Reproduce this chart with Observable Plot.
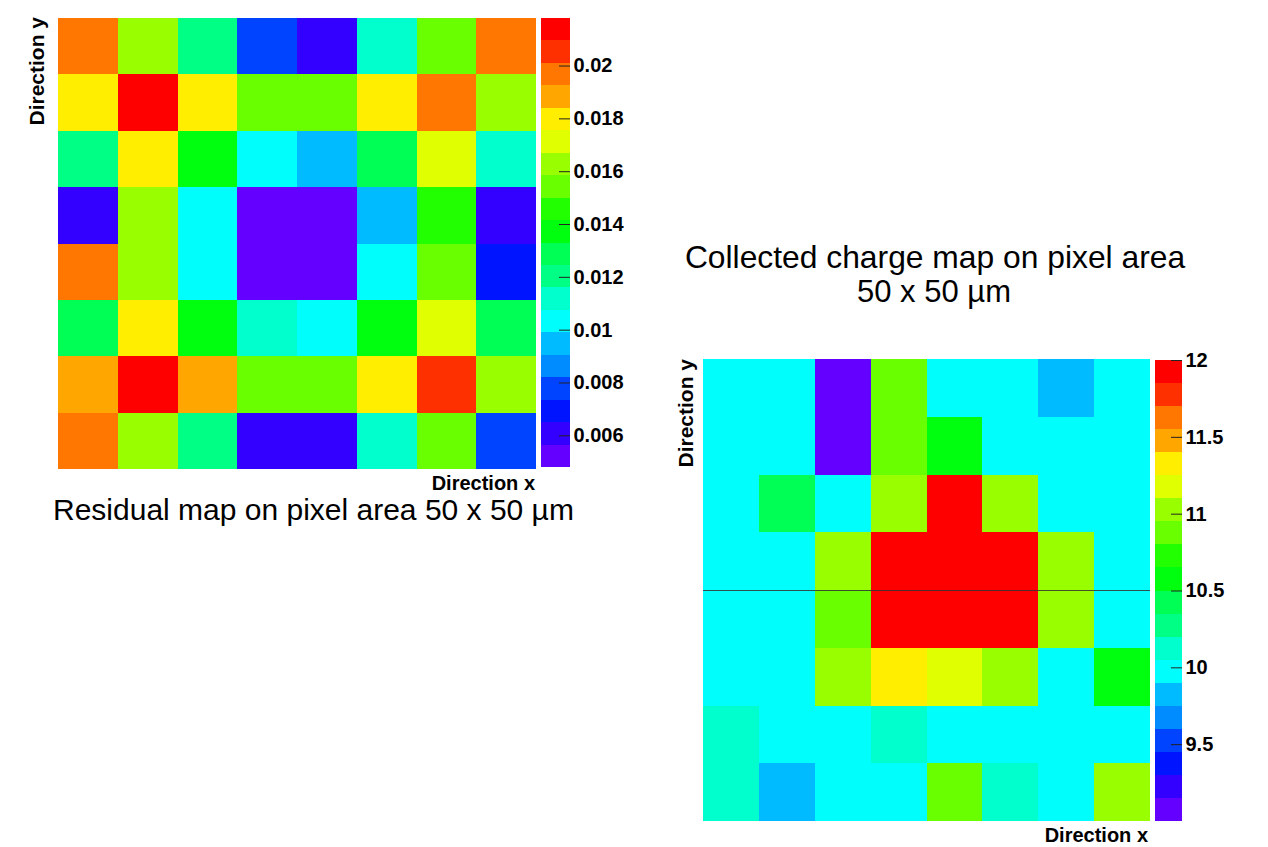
<!DOCTYPE html>
<html>
<head>
<meta charset="utf-8">
<script src="https://cdn.jsdelivr.net/npm/d3@7"></script>
<script src="https://cdn.jsdelivr.net/npm/@observablehq/plot@0.6"></script>
<style>
  html, body { margin: 0; padding: 0; background: #fff; }
  #page { position: relative; width: 1268px; height: 847px; background: #fff; overflow: hidden;
          font-family: "Liberation Sans", Arial, Helvetica, sans-serif; }
  #page svg.abs { position: absolute; }
</style>
</head>
<body>
<div id="page"></div>
<script>
// ---------------- data ----------------
// Residual map (8 x 8 bins), rows listed top to bottom
const residualRows = [
  [0.0197, 0.0163, 0.0121, 0.0078, 0.0061, 0.0112, 0.0154, 0.0196],
  [0.0180, 0.0218, 0.0179, 0.0155, 0.0154, 0.0181, 0.0198, 0.0162],
  [0.0120, 0.0180, 0.0138, 0.0103, 0.0095, 0.0129, 0.0171, 0.0112],
  [0.0061, 0.0164, 0.0104, 0.0048, 0.0052, 0.0094, 0.0146, 0.0060],
  [0.0197, 0.0163, 0.0103, 0.0052, 0.0053, 0.0102, 0.0153, 0.0069],
  [0.0129, 0.0180, 0.0137, 0.0112, 0.0103, 0.0138, 0.0171, 0.0128],
  [0.0188, 0.0214, 0.0189, 0.0154, 0.0155, 0.0180, 0.0205, 0.0163],
  [0.0197, 0.0163, 0.0120, 0.0061, 0.0062, 0.0112, 0.0154, 0.0078]
];
const residualTicks = [0.006, 0.008, 0.01, 0.012, 0.014, 0.016, 0.018, 0.02];

// Collected charge map (8 x 8 bins), rows listed top to bottom
const chargeRows = [
  [9.98, 9.97, 9.00, 10.88, 9.99, 9.96, 9.83, 9.97],
  [9.97, 9.98, 9.08, 10.87, 10.58, 9.98, 9.96, 9.99],
  [9.97, 10.43, 9.98, 11.02, 11.93, 11.03, 9.97, 9.98],
  [9.98, 9.97, 11.03, 12.00, 11.95, 11.92, 11.02, 9.96],
  [9.97, 9.98, 10.88, 11.96, 11.97, 11.94, 11.01, 9.97],
  [9.98, 9.97, 11.03, 11.33, 11.18, 11.02, 9.98, 10.57],
  [10.12, 9.98, 9.97, 10.13, 9.99, 9.98, 9.97, 9.96],
  [10.13, 9.84, 9.98, 9.97, 10.87, 10.12, 9.98, 11.04]
];
const chargeTicks = [9.5, 10, 10.5, 11, 11.5, 12];
const chargeCutRow = [4];   // horizontal line drawn across the charge map

// ROOT "pretty palette", 20 contour levels (violet -> red)
const palette = [
  "#6300ff", "#3300ff", "#0014ff", "#0044ff", "#008bff",
  "#00bbff", "#00fffc", "#00ffcc", "#00ff85", "#00ff55",
  "#00ff0e", "#22ff00", "#69ff00", "#99ff00", "#e0ff00",
  "#ffee00", "#ffa700", "#ff7700", "#ff3000", "#ff0000"
];
const nContours = palette.length;

// text
const residualTitle = "Residual map on pixel area 50 x 50 \u00b5m";
const chargeTitle1 = "Collected charge map on pixel area";
const chargeTitle2 = "50 x 50 \u00b5m";
const xTitle = "Direction x";
const yTitle = "Direction y";

// ---------------- helpers ----------------
const FONT = '"Liberation Sans", Arial, Helvetica, sans-serif';
const page = document.getElementById("page");

function toCells(rows) {
  const n = rows.length;
  const cells = [];
  rows.forEach((row, i) => row.forEach((v, j) => {
    cells.push({x0: j, x1: j + 1, y0: n - 1 - i, y1: n - i, value: v});
  }));
  return cells;
}

function colorOptions(rows) {
  const [zmin, zmax] = d3.extent(rows.flat());
  const step = (zmax - zmin) / nContours;
  const thresholds = d3.range(1, nContours).map(i => zmin + i * step);
  return {zmin, zmax, step, color: {type: "threshold", domain: thresholds, range: palette}};
}

function place(svg, left, top) {
  svg.classList.add("abs");
  svg.style.left = left + "px";
  svg.style.top = top + "px";
  page.appendChild(svg);
}

function heatmap(rows, box, extraMarks = []) {
  const n = rows.length, m = rows[0].length;
  const {color} = colorOptions(rows);
  return Plot.plot({
    width: box.w, height: box.h,
    marginTop: 0, marginRight: 0, marginBottom: 0, marginLeft: 0,
    x: {domain: [0, m], axis: null},
    y: {domain: [0, n], axis: null},
    color,
    marks: [
      Plot.rect(toCells(rows), {x1: "x0", x2: "x1", y1: "y0", y2: "y1", fill: "value", shapeRendering: "crispEdges"}),
      ...extraMarks
    ]
  });
}

function colorbar(rows, ticks, box) {
  const {zmin, zmax, step, color} = colorOptions(rows);
  const bands = d3.range(nContours).map(i => ({lo: zmin + i * step, hi: zmin + (i + 1) * step, mid: zmin + (i + 0.5) * step}));
  const pad = 12;
  return Plot.plot({
    width: box.w + 70, height: box.h + 2 * pad,
    marginTop: pad, marginBottom: pad, marginLeft: 0, marginRight: 70,
    y: {domain: [zmin, zmax], axis: "right", ticks, tickSize: 0, tickPadding: 3, tickFormat: d => String(d), label: null},
    color,
    style: {fontSize: "20px", fontWeight: "bold", fontFamily: FONT, color: "#000", background: "transparent", overflow: "visible"},
    marks: [
      Plot.rect(bands, {y1: "lo", y2: "hi", fill: "mid", shapeRendering: "crispEdges"}),
      Plot.tickY(ticks, {y: d => d, insetLeft: box.w - 11, stroke: "#222", strokeWidth: 1})
    ]
  });
}

// ---------------- residual map ----------------
place(heatmap(residualRows, {w: 478, h: 451}), 58, 18);
place(colorbar(residualRows, residualTicks, {w: 29, h: 449}), 541, 18 - 12);

// ---------------- charge map ----------------
place(heatmap(chargeRows, {w: 447, h: 462}, [
  Plot.ruleY(chargeCutRow, {stroke: "#333", strokeWidth: 1, strokeOpacity: 0.85})
]), 703, 359);
place(colorbar(chargeRows, chargeTicks, {w: 27, h: 461}), 1155, 360 - 12);

// ---------------- text overlay ----------------
const ns = "http://www.w3.org/2000/svg";
const overlay = document.createElementNS(ns, "svg");
overlay.setAttribute("width", 1268);
overlay.setAttribute("height", 847);
overlay.style.position = "absolute";
overlay.style.left = "0px";
overlay.style.top = "0px";
overlay.style.pointerEvents = "none";
page.appendChild(overlay);

function addText(str, x, y, opts = {}) {
  const t = document.createElementNS(ns, "text");
  t.textContent = str;
  t.setAttribute("x", x);
  t.setAttribute("y", y);
  t.setAttribute("font-family", FONT);
  t.setAttribute("font-size", opts.size || 20);
  t.setAttribute("font-weight", opts.weight || "normal");
  t.setAttribute("text-anchor", opts.anchor || "start");
  t.setAttribute("fill", "#000");
  if (opts.rotate) t.setAttribute("transform", `rotate(${opts.rotate}, ${x}, ${y})`);
  overlay.appendChild(t);
}

addText(yTitle, 44, 17, {size: 21, weight: "bold", anchor: "end", rotate: -90});
addText(xTitle, 535, 490, {size: 20, weight: "bold", anchor: "end"});
addText(residualTitle, 53, 520, {size: 30});

addText(chargeTitle1, 935, 268, {size: 31.8, anchor: "middle"});
addText(chargeTitle2, 934, 302, {size: 31, anchor: "middle"});
addText(yTitle, 693, 359, {size: 21, weight: "bold", anchor: "end", rotate: -90});
addText(xTitle, 1148, 842, {size: 20, weight: "bold", anchor: "end"});
</script>
</body>
</html>
